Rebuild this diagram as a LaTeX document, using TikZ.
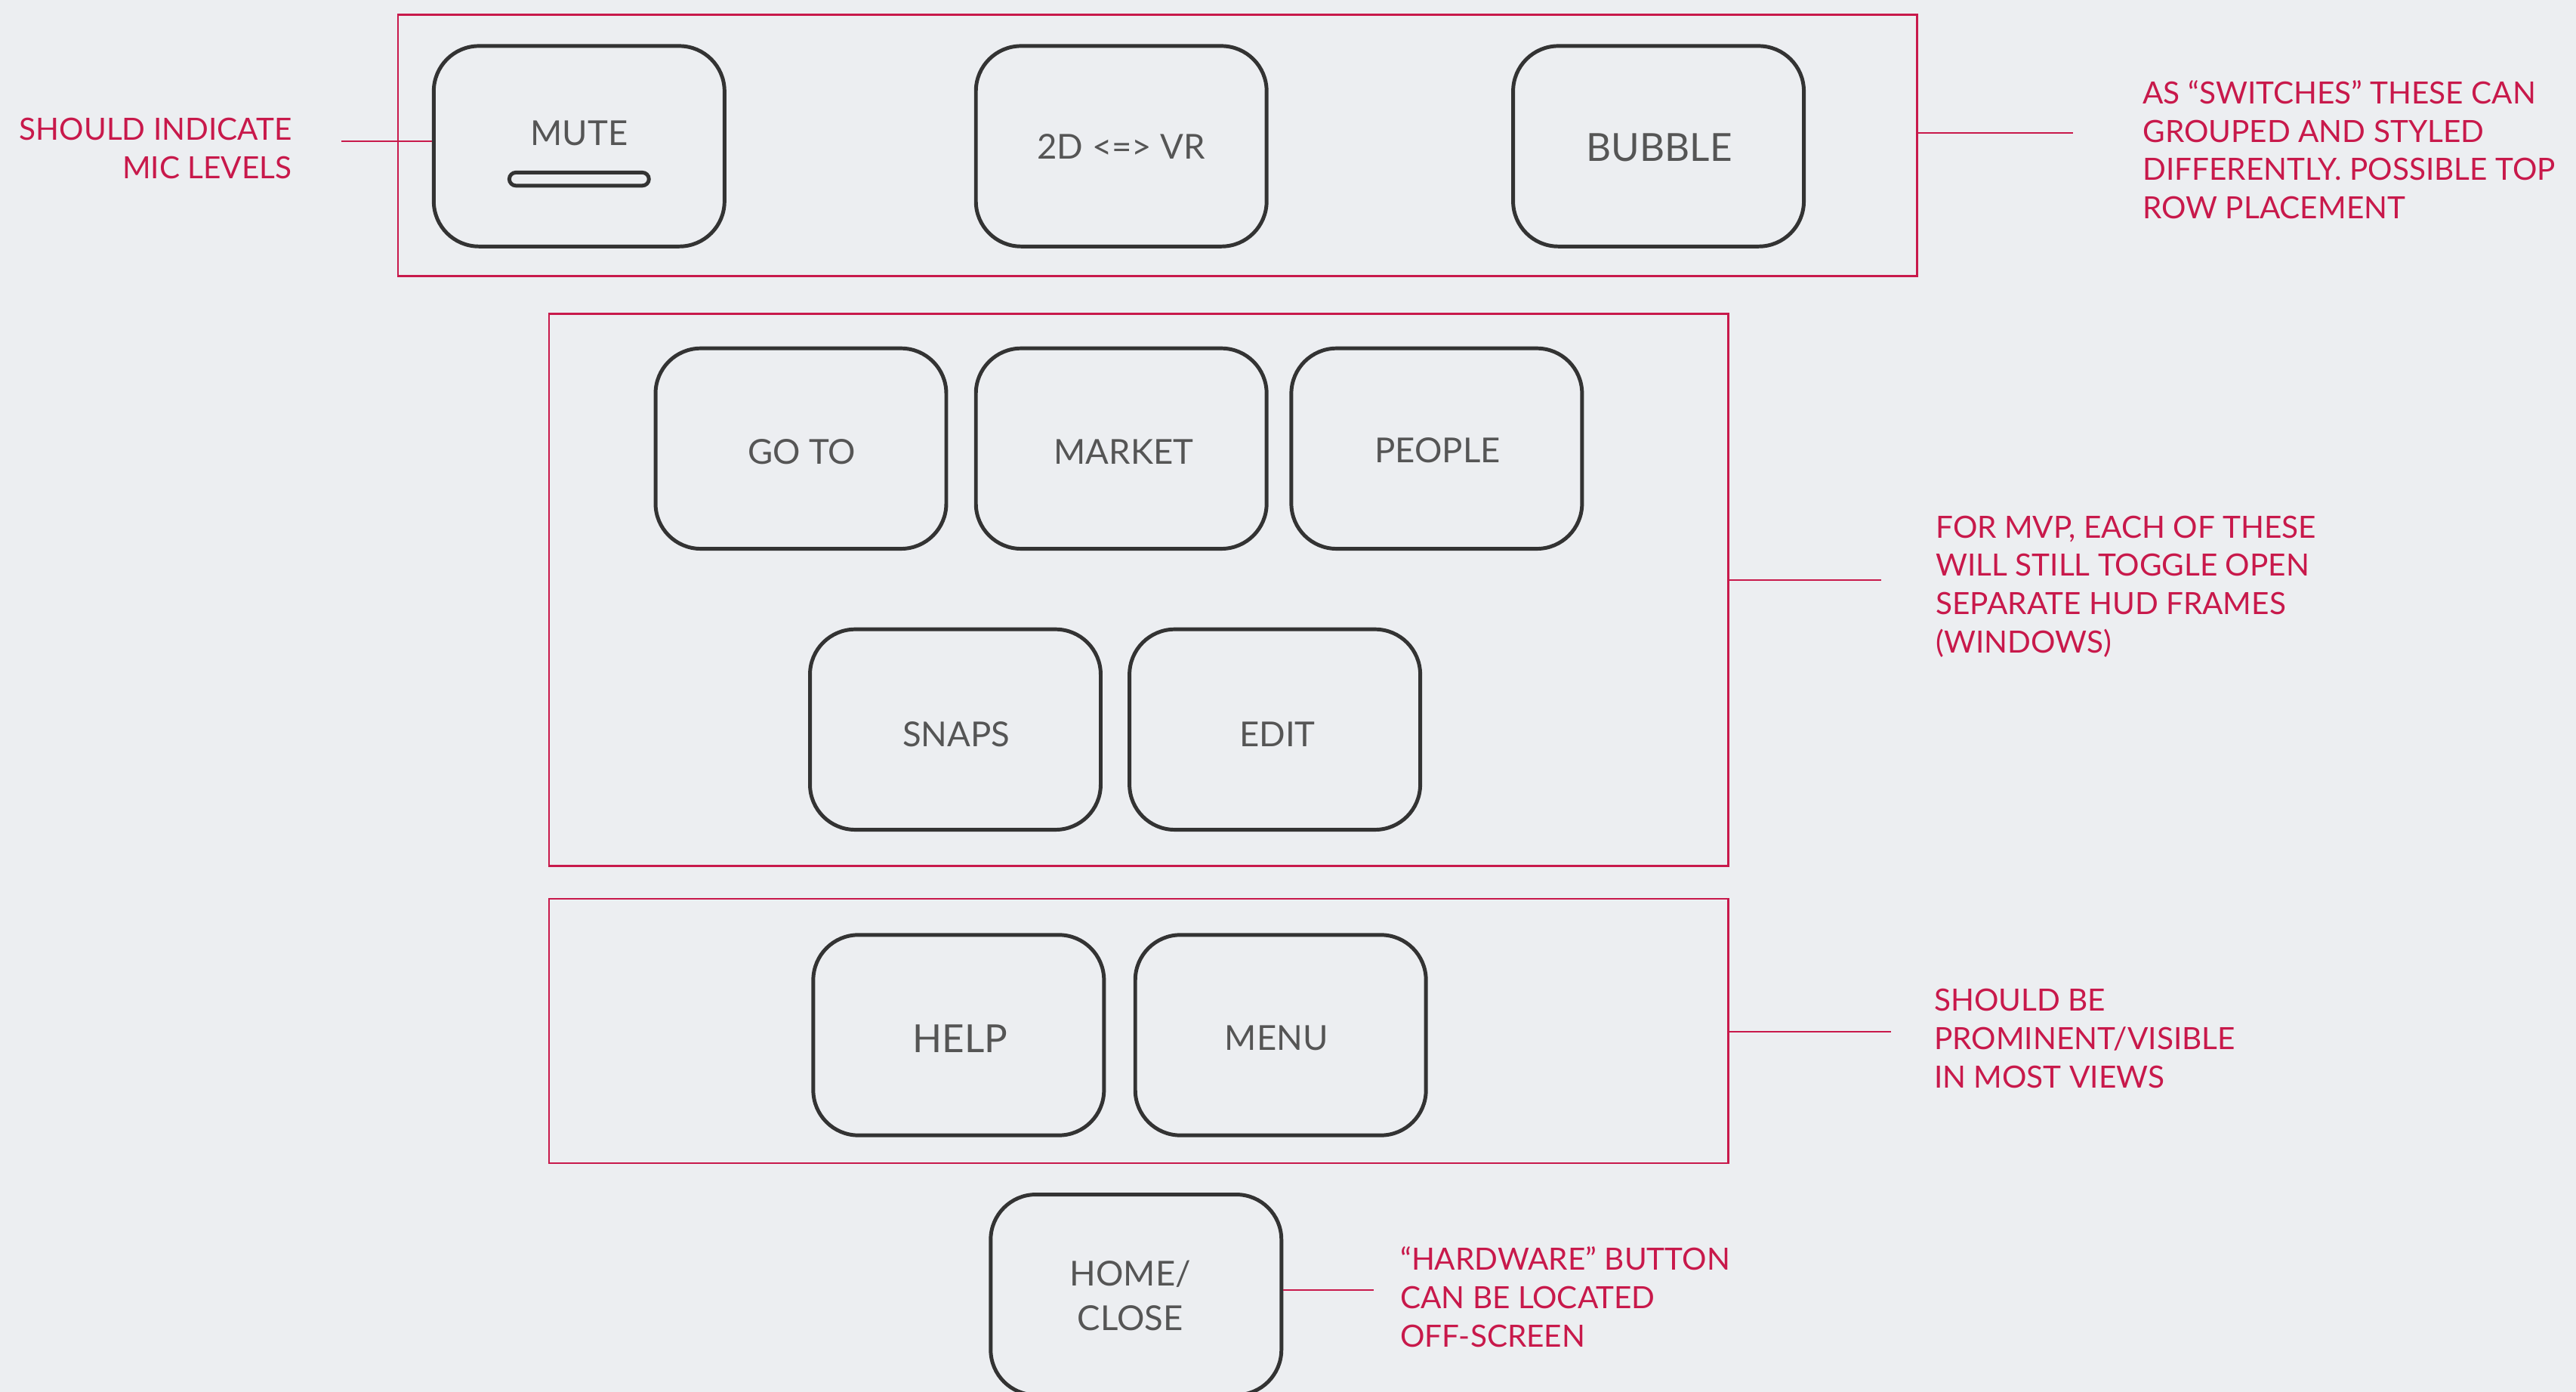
\documentclass[tikz,border=0pt]{standalone}
\usepackage{fontspec}
\setmainfont{Lato}
\usepackage{tikz}
\definecolor{bg}{HTML}{ECEEF1}
\definecolor{hudred}{HTML}{C8194B}
\definecolor{edge}{HTML}{333333}
\definecolor{label}{HTML}{555555}
\tikzset{
  btn/.style={draw=edge, line width=1.3pt, rounded corners=0.55cm, minimum width=3.54cm, minimum height=2.44cm, inner sep=0pt},
  btntext/.style={text=label, font=\fontsize{11.9}{15.4}\selectfont, align=center, inner sep=0pt},
  btnbig/.style={btntext, font=\fontsize{13.4}{16}\selectfont},
  bar/.style={draw=edge, line width=1.3pt, rounded corners=0.08cm, minimum width=1.7cm, minimum height=0.16cm, inner sep=0pt},
  frame/.style={draw=hudred, line width=0.6pt, minimum width=14.36cm, inner sep=0pt},
  lead/.style={draw=hudred, line width=0.6pt},
  remark/.style={text=hudred, font=\fontsize{10.6}{13.3}\selectfont, inner sep=0pt},
}

\begin{document}
\begin{tikzpicture}[x=0.02cm, y=-0.02cm]
  \fill[bg] (0,0) rectangle (1568,847);
  \useasboundingbox (0,0) rectangle (1568,847);

  % switches row
  \node[frame, minimum width=18.5cm, minimum height=3.18cm] (switches) at (704.5,88.5) {};
  \node[btn] (mute) at (352.5,89) {};
  \node[btntext] (mutelbl) at (352.5,81) {MUTE};
  \node[bar] (mutebar) at (352.5,109) {};
  \node[btn] (dimvr) at (682.5,89) {};
  \node[btntext] at (682.5,89) {2D <=> VR};
  \node[btn] (bubble) at (1009.5,89) {};
  \node[btnbig] at (1010,90) {BUBBLE};

  \coordinate (micend) at (208,86);
  \draw[lead] (micend) -- (mute.west |- micend);
  \node[remark, anchor=north east, align=right] (micnote) at (178,71.5) {SHOULD INDICATE\\MIC LEVELS};

  \coordinate (swend) at (1262,81);
  \draw[lead] (switches.east |- swend) -- (swend);
  \node[remark, anchor=north west, align=left] (swnote) at (1304,48.5)
    {AS “SWITCHES” THESE CAN\\GROUPED AND STYLED\\DIFFERENTLY. POSSIBLE TOP\\ROW PLACEMENT};

  % hud frames
  \node[frame, minimum height=6.72cm] (frames) at (693,359) {};
  \node[btn] (goto) at (487.5,273) {};
  \node[btntext] at (488,275) {GO TO};
  \node[btn] (market) at (682.5,273) {};
  \node[btntext] at (684,275) {MARKET};
  \node[btn] (people) at (874.5,273) {};
  \node[btntext] at (875,274) {PEOPLE};
  \node[btn] (snaps) at (581.5,444) {};
  \node[btntext] at (582,447) {SNAPS};
  \node[btn] (edit) at (776,444) {};
  \node[btntext] at (777.5,447) {EDIT};

  \coordinate (hudend) at (1145,353);
  \draw[lead] (frames.east |- hudend) -- (hudend);
  \node[remark, anchor=north west, align=left] (hudnote) at (1178,313.5)
    {FOR MVP, EACH OF THESE\\WILL STILL TOGGLE OPEN\\SEPARATE HUD FRAMES\\(WINDOWS)};

  % always visible
  \node[frame, minimum height=3.22cm] (visible) at (693,627.5) {};
  \node[btn] (help) at (583.5,630) {};
  \node[btnbig] at (584.5,632) {HELP};
  \node[btn] (menu) at (779.5,630) {};
  \node[btntext] at (777,632) {MENU};

  \coordinate (visend) at (1151,628);
  \draw[lead] (visible.east |- visend) -- (visend);
  \node[remark, anchor=north west, align=left] (visnote) at (1177,601.5)
    {SHOULD BE\\PROMINENT/VISIBLE\\IN MOST VIEWS};

  % hardware button
  \node[btn] (home) at (691.5,788) {};
  \node[btntext] at (688,788.5) {HOME/\\CLOSE};

  \coordinate (homeend) at (836,785);
  \draw[lead] (home.east |- homeend) -- (homeend);
  \node[remark, anchor=north west, align=left] (homenote) at (852,758.5)
    {“HARDWARE” BUTTON\\CAN BE LOCATED\\OFF-SCREEN};
\end{tikzpicture}
\end{document}
